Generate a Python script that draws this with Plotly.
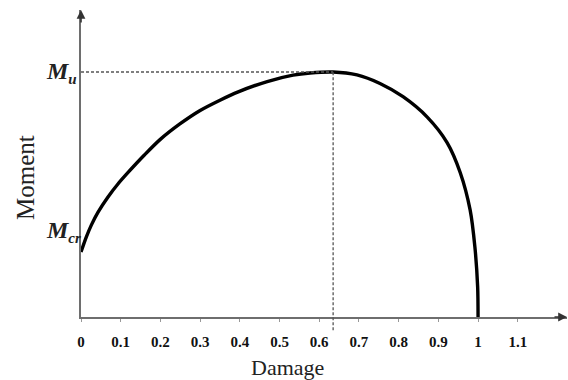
import plotly.graph_objects as go

# Data
damage = [0.0, 0.013, 0.026, 0.043, 0.068, 0.093, 0.118, 0.159, 0.199, 0.249, 0.300,
          0.350, 0.396, 0.469, 0.534, 0.577, 0.635, 0.695, 0.753, 0.811, 0.872,
          0.922, 0.955, 0.980, 0.992, 0.999, 1.0]
moment = [0.265, 0.325, 0.375, 0.428, 0.490, 0.543, 0.589, 0.660, 0.724, 0.788, 0.843,
          0.885, 0.919, 0.961, 0.987, 0.996, 1.0, 0.988, 0.953, 0.899, 0.816,
          0.712, 0.590, 0.437, 0.286, 0.122, 0.0]

x_ticks = [0, 0.1, 0.2, 0.3, 0.4, 0.5, 0.6, 0.7, 0.8, 0.9, 1, 1.1]
x_tick_labels = ["0", "0.1", "0.2", "0.3", "0.4", "0.5", "0.6", "0.7", "0.8", "0.9", "1", "1.1"]

M_u = 1.0
M_cr = 0.355
peak_damage = 0.635
y_label_vals = [M_cr, M_u]
y_label_texts = ["<b><i>M</i></b><sub><span style='font-size:15px'><b><i>cr</i></b></span></sub>",
                 "<b><i>M</i></b><sub><span style='font-size:15px'><b><i>u</i></b></span></sub>"]

x_max = 1.224
y_max = 1.253

serif = "Liberation Serif, Times New Roman, serif"
axis_color = "#6e6e6e"

fig = go.Figure()

fig.add_trace(go.Scatter(
    x=damage, y=moment, mode="lines",
    line=dict(color="black", width=3.4, shape="spline", smoothing=0.8),
    hoverinfo="skip", showlegend=False,
))

# dashed guide lines
fig.add_shape(type="line", xref="x", yref="y", x0=0, x1=peak_damage, y0=M_u, y1=M_u,
              line=dict(color="#555555", width=1.3, dash="3px,2px"))
fig.add_shape(type="line", xref="x", yref="paper", x0=peak_damage, x1=peak_damage,
              y0=-0.043, y1=M_u / y_max,
              line=dict(color="#555555", width=1.3, dash="3px,2px"))

# arrowheads on axes
fig.add_annotation(x=x_max, y=0, xref="x", yref="y", ax=-14, ay=0, axref="pixel", ayref="pixel",
                   showarrow=True, arrowhead=2, arrowsize=1.1, arrowwidth=1.6,
                   arrowcolor="#333333", text="")
fig.add_annotation(x=0, y=y_max, xref="x", yref="y", ax=0, ay=14, axref="pixel", ayref="pixel",
                   showarrow=True, arrowhead=2, arrowsize=1.1, arrowwidth=1.6,
                   arrowcolor="#333333", text="")

# y labels (M_cr, M_u)
for v, t in zip(y_label_vals, y_label_texts):
    fig.add_annotation(x=0, y=v, xref="x", yref="y", text=t, showarrow=False,
                       xanchor="left", yanchor="middle", xshift=-37, yshift=-1,
                       font=dict(family=serif, size=24, color="#222222"))

# axis titles
fig.add_annotation(text="Damage", xref="paper", yref="paper", x=(287 - 81) / 486, y=-50 / 307,
                   showarrow=False, font=dict(family=serif, size=22, color="#222222"),
                   xanchor="center", yanchor="middle")
fig.add_annotation(text="Moment", xref="paper", yref="paper", x=-56 / 486, y=(317 - 178) / 307,
                   showarrow=False, textangle=-90,
                   font=dict(family=serif, size=25, color="#222222"),
                   xanchor="center", yanchor="middle")

fig.update_layout(
    width=568, height=380,
    margin=dict(l=81, r=1, t=10, b=63),
    paper_bgcolor="white", plot_bgcolor="white",
    xaxis=dict(
        range=[0, x_max], showgrid=False, zeroline=False,
        showline=True, linecolor=axis_color, linewidth=1.6,
        tickvals=x_ticks, ticktext=x_tick_labels,
        ticks="outside", ticklen=3, tickcolor="#999999", tickwidth=1,
        tickfont=dict(family=serif, size=15, color="#111111", weight="bold"),
        ticklabelstandoff=7,
    ),
    yaxis=dict(
        range=[0, y_max], showgrid=False, zeroline=False,
        showline=True, linecolor=axis_color, linewidth=1.6,
        showticklabels=False, ticks="",
    ),
)

fig.write_html("out.html")
